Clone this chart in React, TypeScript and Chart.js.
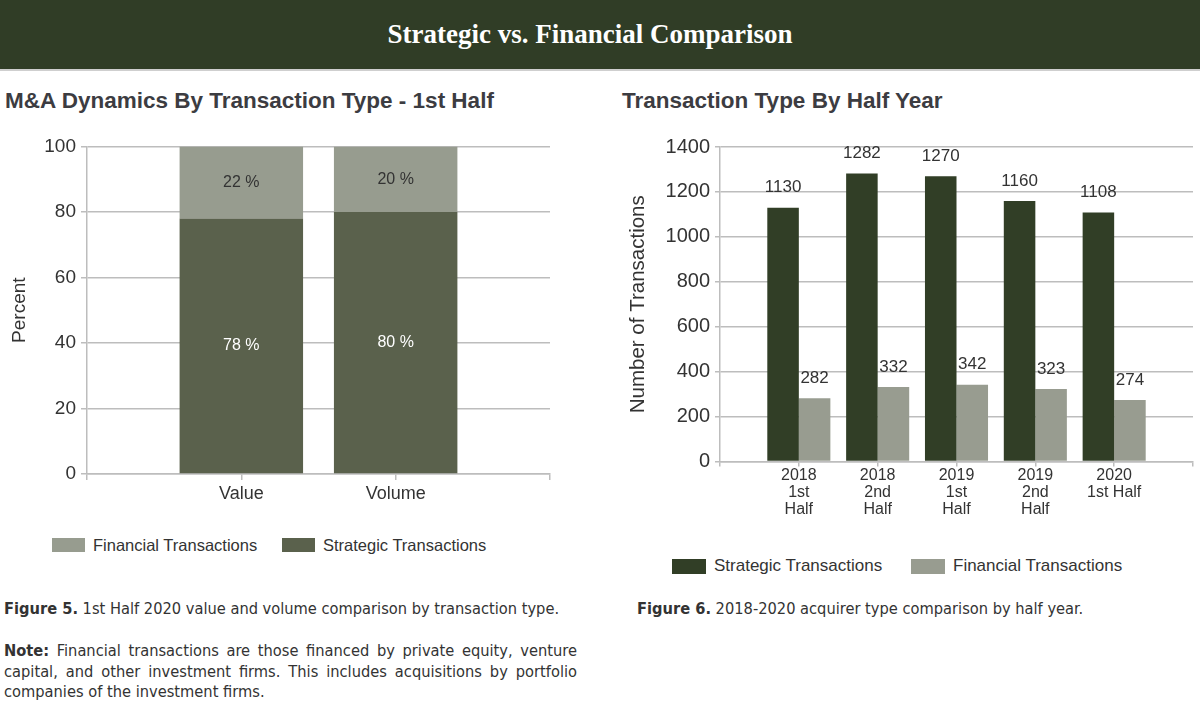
import React, { useEffect, useRef } from 'react';
import { Chart, registerables } from 'chart.js';

Chart.register(...registerables);

// ---- Data ----
const leftCategories = ['Value', 'Volume'];
const leftStrategic = [78, 80];
const leftFinancial = [22, 20];

const rightCategories: string[][] = [
  ['2018', '1st', 'Half'],
  ['2018', '2nd', 'Half'],
  ['2019', '1st', 'Half'],
  ['2019', '2nd', 'Half'],
  ['2020', '1st Half'],
];
const rightStrategic = [1130, 1282, 1270, 1160, 1108];
const rightFinancial = [282, 332, 342, 323, 274];

const seriesNames = ['Strategic Transactions', 'Financial Transactions'];

// ---- Styles ----
const GRID = '#bdbdbd';
const TEXT = '#333333';
const LEFT_STRAT = '#5a614c';
const LEFT_FIN = '#979c8f';
const RIGHT_STRAT = '#313e26';
const RIGHT_FIN = '#989c90';
const SANS = "'Liberation Sans', Arial, sans-serif";
const COND = "'DejaVu Sans Condensed', 'DejaVu Sans', sans-serif";

const pad = <T,>(arr: T[], empty: T): T[] => [empty, ...arr, empty];

const insideLabels = {
  id: 'insideLabels',
  afterDatasetsDraw(chart: any) {
    const ctx = chart.ctx;
    ctx.save();
    ctx.font = `16px ${SANS}`;
    ctx.textAlign = 'center';
    ctx.textBaseline = 'middle';
    chart.data.datasets.forEach((ds: any, di: number) => {
      const meta = chart.getDatasetMeta(di);
      meta.data.forEach((el: any, i: number) => {
        const v = ds.data[i];
        if (v === null || v === undefined) return;
        ctx.fillStyle = ds.labelColor;
        ctx.fillText(`${v} %`, el.x, (el.y + el.base) / 2);
      });
    });
    ctx.restore();
  },
};

const topLabels = {
  id: 'topLabels',
  afterDatasetsDraw(chart: any) {
    const ctx = chart.ctx;
    ctx.save();
    ctx.font = `17px ${SANS}`;
    ctx.textAlign = 'center';
    ctx.textBaseline = 'middle';
    ctx.fillStyle = TEXT;
    chart.data.datasets.forEach((ds: any, di: number) => {
      const meta = chart.getDatasetMeta(di);
      meta.data.forEach((el: any, i: number) => {
        const v = ds.data[i];
        if (v === null || v === undefined) return;
        ctx.fillText(String(v), el.x, el.y - 20);
      });
    });
    ctx.restore();
  },
};

function LeftChart() {
  const ref = useRef<HTMLCanvasElement>(null);
  useEffect(() => {
    const chart = new Chart(ref.current!, {
      type: 'bar',
      data: {
        labels: pad(leftCategories, ''),
        datasets: [
          {
            label: seriesNames[0],
            data: pad<number | null>(leftStrategic, null),
            backgroundColor: LEFT_STRAT,
            labelColor: '#ffffff',
          } as any,
          {
            label: seriesNames[1],
            data: pad<number | null>(leftFinancial, null),
            backgroundColor: LEFT_FIN,
            labelColor: TEXT,
          } as any,
        ],
      },
      options: {
        responsive: false,
        animation: false,
        devicePixelRatio: 1,
        layout: { padding: { top: 14, right: 10, left: 0, bottom: 0 } },
        datasets: { bar: { categoryPercentage: 0.8, barPercentage: 1 } },
        plugins: { legend: { display: false }, tooltip: { enabled: false } },
        scales: {
          x: {
            stacked: true,
            offset: false,
            grid: { offset: false, drawOnChartArea: false, color: GRID, tickLength: 6, lineWidth: 1.5 },
            border: { color: GRID, width: 1.5 },
            ticks: { color: TEXT, font: { family: SANS, size: 18 }, padding: 3, autoSkip: false, maxRotation: 0 },
            afterFit: (s: any) => { s.height = 46; },
          },
          y: {
            stacked: true,
            min: 0,
            max: 100,
            grid: { color: GRID, tickLength: 6, lineWidth: 1.5 },
            border: { color: GRID, width: 1.5 },
            ticks: { stepSize: 20, color: TEXT, font: { family: SANS, size: 19 }, padding: 5 },
            title: { display: true, text: 'Percent', color: TEXT, font: { family: SANS, size: 19 }, padding: { top: 8 } },
            afterFit: (s: any) => { s.width = 87; },
          },
        },
      } as any,
      plugins: [insideLabels],
    });
    return () => chart.destroy();
  }, []);
  return <canvas ref={ref} width={560} height={390} style={{ position: 'absolute', left: 0, top: 130, width: 560, height: 390 }} />;
}

function RightChart() {
  const ref = useRef<HTMLCanvasElement>(null);
  useEffect(() => {
    const chart = new Chart(ref.current!, {
      type: 'bar',
      data: {
        labels: pad<any>(rightCategories, ''),
        datasets: [
          {
            label: seriesNames[0],
            data: pad<number | null>(rightStrategic, null),
            backgroundColor: RIGHT_STRAT,
          },
          {
            label: seriesNames[1],
            data: pad<number | null>(rightFinancial, null),
            backgroundColor: RIGHT_FIN,
          },
        ],
      },
      options: {
        responsive: false,
        animation: false,
        devicePixelRatio: 1,
        layout: { padding: { top: 16.5, right: 7, left: 0, bottom: 0 } },
        datasets: { bar: { categoryPercentage: 0.8, barPercentage: 1 } },
        plugins: { legend: { display: false }, tooltip: { enabled: false } },
        scales: {
          x: {
            offset: false,
            grid: { offset: false, drawOnChartArea: false, color: GRID, tickLength: 5, lineWidth: 1.5 },
            border: { color: GRID, width: 1.5 },
            ticks: { color: TEXT, font: { family: SANS, size: 16, lineHeight: 1.05 }, padding: 1, autoSkip: false, maxRotation: 0 },
            afterFit: (s: any) => { s.height = 68.5; },
          },
          y: {
            min: 0,
            max: 1400,
            grid: { color: GRID, tickLength: 5, lineWidth: 1.5 },
            border: { color: GRID, width: 1.5 },
            ticks: { stepSize: 200, color: TEXT, font: { family: SANS, size: 20 }, padding: 5, callback: (v: any) => String(v) },
            title: { display: true, text: 'Number of Transactions', color: TEXT, font: { family: SANS, size: 20.5 }, padding: { top: 26 } },
            afterFit: (s: any) => { s.width = 120; },
          },
        },
      } as any,
      plugins: [topLabels],
    });
    return () => chart.destroy();
  }, []);
  return <canvas ref={ref} width={600} height={400} style={{ position: 'absolute', left: 600, top: 130, width: 600, height: 400 }} />;
}

function LegendItem({ color, text, x, y, size, box }: { color: string; text: string; x: number; y: number; size: number; box: [number, number] }) {
  return (
    <div style={{ position: 'absolute', left: x, top: y - 12, height: 24, display: 'flex', alignItems: 'center', whiteSpace: 'nowrap' }}>
      <div style={{ width: box[0], height: box[1], background: color, marginRight: 8 }} />
      <span style={{ fontFamily: SANS, fontSize: size, color: TEXT }}>{text}</span>
    </div>
  );
}

export default function App() {
  return (
    <div style={{ position: 'relative', width: 1200, height: 727, background: '#ffffff', overflow: 'hidden' }}>
      <style>{`body{margin:0;background:#fff;}`}</style>
      <div style={{ position: 'absolute', left: 0, top: 0, width: 1200, height: 69, background: '#303d26', borderBottom: '2px solid #cfcfcf', display: 'flex', alignItems: 'center', justifyContent: 'center' }}>
        <span style={{ fontFamily: "'Liberation Serif', serif", fontWeight: 'bold', fontSize: 27, color: '#ffffff', marginLeft: -20 }}>Strategic vs. Financial Comparison</span>
      </div>

      <div style={{ position: 'absolute', left: 5, top: 88, fontFamily: SANS, fontWeight: 'bold', fontSize: 22.5, color: '#3c3c41', whiteSpace: 'nowrap' }}>M&amp;A Dynamics By Transaction Type - 1st Half</div>
      <div style={{ position: 'absolute', left: 622, top: 88, fontFamily: SANS, fontWeight: 'bold', fontSize: 22.5, color: '#3c3c41', whiteSpace: 'nowrap' }}>Transaction Type By Half Year</div>

      <LeftChart />
      <RightChart />

      <LegendItem color={LEFT_FIN} text={seriesNames[1]} x={52} y={545} size={16.5} box={[33, 14]} />
      <LegendItem color={LEFT_STRAT} text={seriesNames[0]} x={282} y={545} size={16.5} box={[33, 14]} />

      <LegendItem color={RIGHT_STRAT} text={seriesNames[0]} x={672} y={566} size={17} box={[34, 15]} />
      <LegendItem color={RIGHT_FIN} text={seriesNames[1]} x={911} y={566} size={17} box={[34, 15]} />

      <div style={{ position: 'absolute', left: 4, top: 599, fontFamily: COND, fontSize: 16.3, color: '#333', whiteSpace: 'nowrap' }}>
        <b>Figure 5.</b> 1st Half 2020 value and volume comparison by transaction type.
      </div>
      <div style={{ position: 'absolute', left: 4, top: 641, width: 573, fontFamily: COND, fontSize: 16.3, lineHeight: '20.5px', color: '#333', textAlign: 'justify' }}>
        <b>Note:</b> Financial transactions are those financed by private equity, venture capital, and other investment firms. This includes acquisitions by portfolio companies of the investment firms.
      </div>
      <div style={{ position: 'absolute', left: 637, top: 599, fontFamily: COND, fontSize: 16.3, color: '#333', whiteSpace: 'nowrap' }}>
        <b>Figure 6.</b> 2018-2020 acquirer type comparison by half year.
      </div>
    </div>
  );
}
